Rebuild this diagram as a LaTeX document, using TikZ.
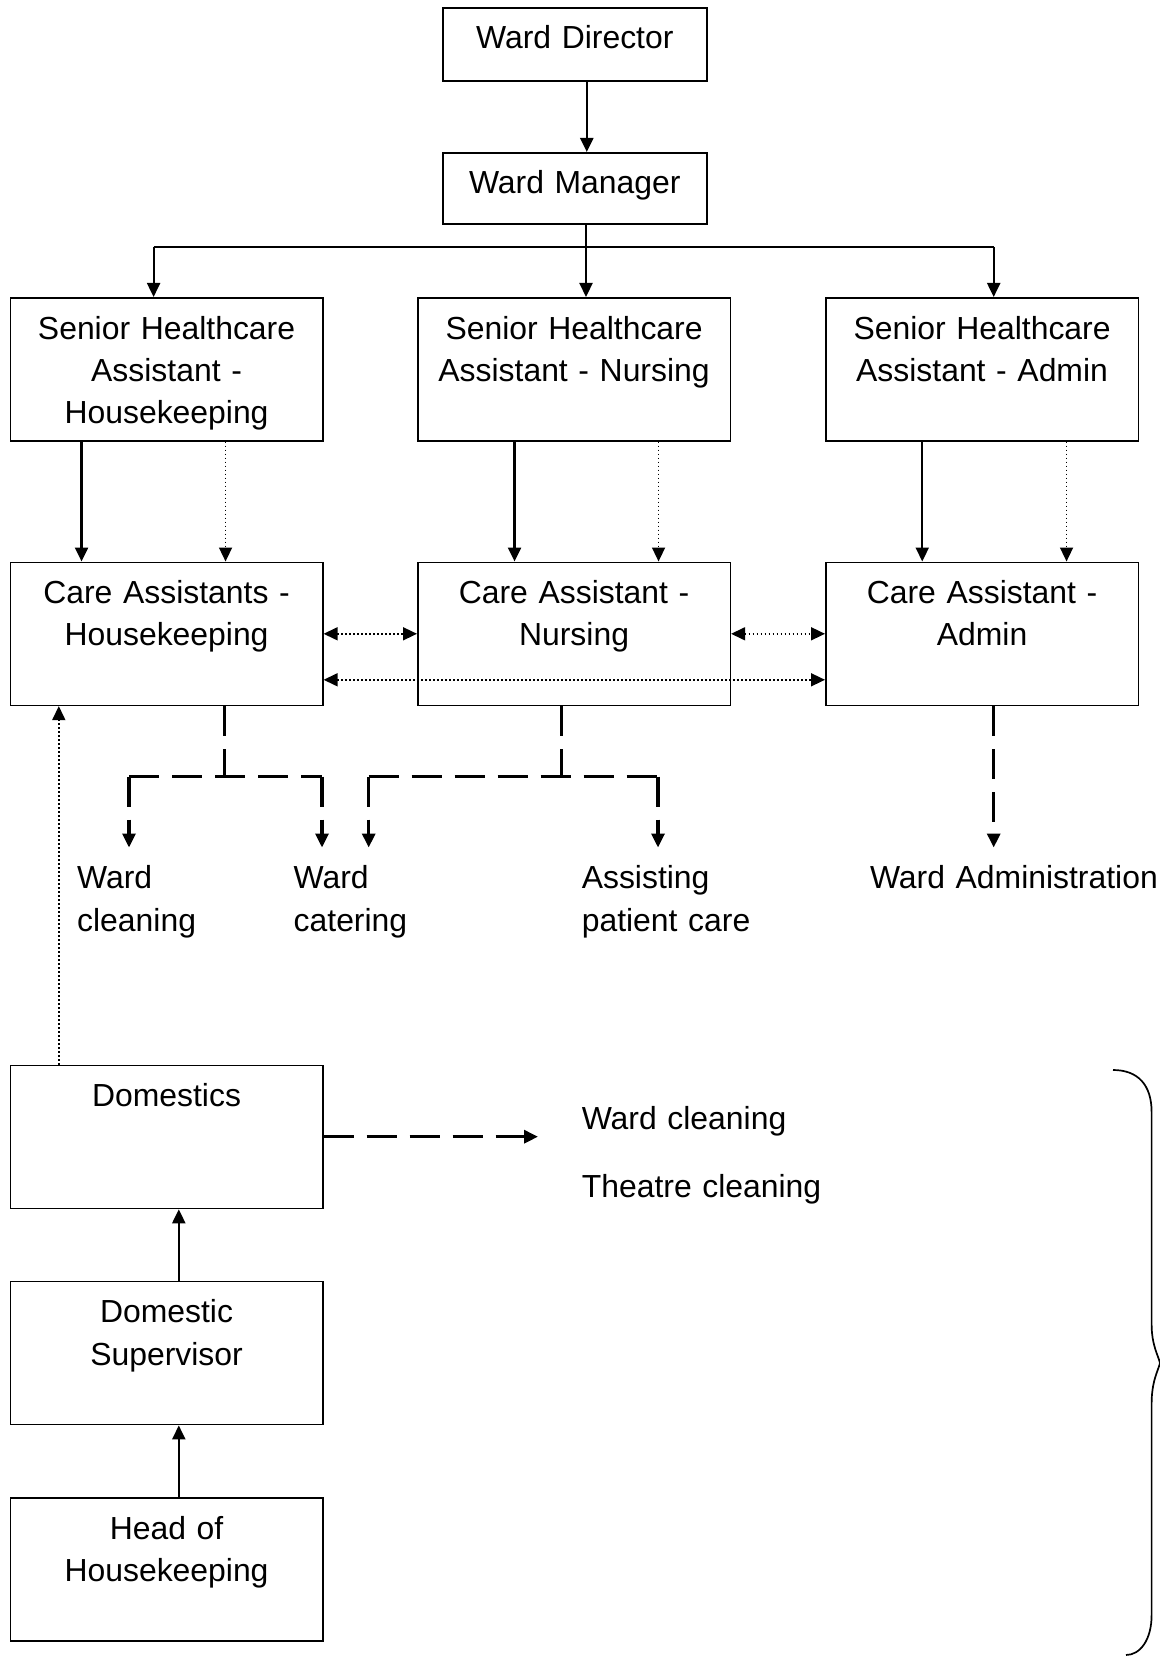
\documentclass[tikz,border=0pt]{standalone}
\usepackage{fontspec}
\setmainfont{Liberation Sans}
\usetikzlibrary{arrows.meta}
\begin{document}
\begin{tikzpicture}[x=1pt,y=-1pt,
  box/.style={draw, line width=1.6pt, rectangle, inner sep=0pt, anchor=north west},
  bigbox/.style={box, minimum width=312.5pt, minimum height=143pt},
  boxtext/.style={font=\fontsize{31.9}{42.4}\selectfont, inner sep=0pt,
    text width=300pt, align=center, anchor=base},
  plaintext/.style={font=\fontsize{31.9}{42.4}\selectfont, inner sep=0pt,
    text width=300pt, align=left, anchor=base west},
  tip/.style={-{Triangle[length=14pt,width=13pt]}},
  ln/.style={line width=1.8pt},
  arr/.style={line width=2.2pt, tip},
  dotarr/.style={line width=1.6pt, dash pattern=on 1.6pt off 2.4pt, tip},
  dotdbl/.style={line width=1.6pt, dash pattern=on 1.6pt off 2.4pt,
    {Triangle[length=14pt,width=13pt]}-{Triangle[length=14pt,width=13pt]}},
  dashln/.style={line width=3.2pt, dash pattern=on 30pt off 13pt},
  dasharr/.style={dashln, tip},
  brace/.style={line width=1.7pt}
]
\useasboundingbox (0,0) rectangle (1159,1661);

% boxes
\node[box, minimum width=264pt, minimum height=73pt] (wd) at (442,7) {};
\node[box, minimum width=264pt, minimum height=71pt] (wm) at (442,152) {};
\node[bigbox] (shl) at (9.5,297) {};
\node[bigbox] (shn) at (417,297) {};
\node[bigbox] (sha) at (825,297) {};
\node[bigbox] (cal) at (9.5,561.5) {};
\node[bigbox] (can) at (417,561.5) {};
\node[bigbox] (caa) at (825,561.5) {};
\node[bigbox] (dom) at (9.5,1064.7) {};
\node[bigbox] (dsup) at (9.5,1280.8) {};
\node[bigbox] (hoh) at (9.5,1497) {};

% box texts
\node[boxtext] (wdt) at ([yshift=-42pt]wd.north) {Ward Director};
\node[boxtext] (wmt) at ([yshift=-42pt]wm.north) {Ward Manager};
\node[boxtext] (shlt) at ([yshift=-42pt]shl.north) {Senior Healthcare\\Assistant -\\Housekeeping};
\node[boxtext] (shnt) at ([yshift=-42pt]shn.north) {Senior Healthcare\\Assistant - Nursing};
\node[boxtext] (shat) at ([yshift=-42pt]sha.north) {Senior Healthcare\\Assistant - Admin};
\node[boxtext] (calt) at ([yshift=-42pt]cal.north) {Care Assistants -\\Housekeeping};
\node[boxtext] (cant) at ([yshift=-42pt]can.north) {Care Assistant -\\Nursing};
\node[boxtext] (caat) at ([yshift=-42pt]caa.north) {Care Assistant -\\Admin};
\node[boxtext] (domt) at ([yshift=-42pt]dom.north) {Domestics};
\node[boxtext] (dsupt) at ([yshift=-42pt]dsup.north) {Domestic\\Supervisor};
\node[boxtext] (hoht) at ([yshift=-42pt]hoh.north) {Head of\\Housekeeping};

% duty labels
\node[plaintext] (wcl) at (77,888.7) {Ward\\cleaning};
\node[plaintext] (wca) at (293.5,888.7) {Ward\\catering};
\node[plaintext] (apc) at (581.6,888.7) {Assisting\\patient care};
\node[plaintext] (wad) at (869.8,888.7) {Ward Administration};
\node[plaintext] (dwc) at (581.6,1129) {Ward cleaning};
\node[plaintext] (dtc) at (581.6,1197) {Theatre cleaning};

% line management, top
\draw[arr] ([xshift=12pt]wd.south) -- ([xshift=12pt]wm.north);
\coordinate (barl) at (153.6,247);
\coordinate (barm) at (586,247);
\coordinate (barr) at (993.7,247);
\draw[ln] (wm.south -| barm) -- (barm);
\draw[ln] (barl) -- (barr);
\draw[arr] (barl) -- (barl |- shl.north);
\draw[arr] (barm) -- (barm |- shn.north);
\draw[arr] (barr) -- (barr |- sha.north);

% senior to care assistants
\draw[arr] ([xshift=-85pt]shl.south) -- ([xshift=-85pt]cal.north);
\draw[dotarr] ([xshift=59pt]shl.south) -- ([xshift=59pt]cal.north);
\draw[arr] ([xshift=-59.5pt]shn.south) -- ([xshift=-59.5pt]can.north);
\draw[dotarr] ([xshift=84.5pt]shn.south) -- ([xshift=84.5pt]can.north);
\draw[arr] ([xshift=-59.8pt]sha.south) -- ([xshift=-59.8pt]caa.north);
\draw[dotarr] ([xshift=84.5pt]sha.south) -- ([xshift=84.5pt]caa.north);

% links between care assistants
\draw[dotdbl] (cal.east) -- (can.west);
\draw[dotdbl] (can.east) -- (caa.west);
\draw[dotdbl] ([yshift=-46pt]cal.east) -- ([yshift=-46pt]caa.west);

% duties
\coordinate (jl) at (224.6,776.5);
\coordinate (jl1) at (129,776.5);
\coordinate (jl2) at (322,776.5);
\coordinate (tl1) at (129,847.5);
\coordinate (tl2) at (322,847.5);
\draw[dashln] (cal.south -| jl) -- (jl);
\draw[dashln] (jl1) -- (jl2);
\draw[dasharr] (jl1) -- (tl1);
\draw[dasharr] (jl2) -- (tl2);

\coordinate (jm) at (561.5,776.5);
\coordinate (jm1) at (368.7,776.5);
\coordinate (jm2) at (658,776.5);
\coordinate (tm1) at (368.7,847.5);
\coordinate (tm2) at (658,847.5);
\draw[dashln] (can.south -| jm) -- (jm);
\draw[dashln] (jm1) -- (jm2);
\draw[dasharr] (jm1) -- (tm1);
\draw[dasharr] (jm2) -- (tm2);

\coordinate (tr) at (993.7,847.5);
\draw[dasharr] (caa.south -| tr) -- (tr);

% housekeeping chain
\draw[dotarr] ([xshift=-107.75pt]dom.north) -- ([xshift=-107.75pt]cal.south);
\draw[arr] ([xshift=12.25pt]dsup.north) -- ([xshift=12.25pt]dom.south);
\draw[arr] ([xshift=12.25pt]hoh.north) -- ([xshift=12.25pt]dsup.south);
\coordinate (domout) at (538,1136.7);
\draw[dasharr] (dom.east |- domout) -- (domout);

% brace
\draw[brace] (1113,1070) .. controls (1138,1070) and (1151.6,1085) .. (1151.6,1112)
  -- (1151.6,1324) .. controls (1151.6,1345) and (1158,1355) .. (1160,1363)
  .. controls (1158,1371) and (1151.6,1381) .. (1151.6,1404)
  -- (1151.6,1615) .. controls (1151.6,1640) and (1140,1655) .. (1126,1655);
\end{tikzpicture}
\end{document}
